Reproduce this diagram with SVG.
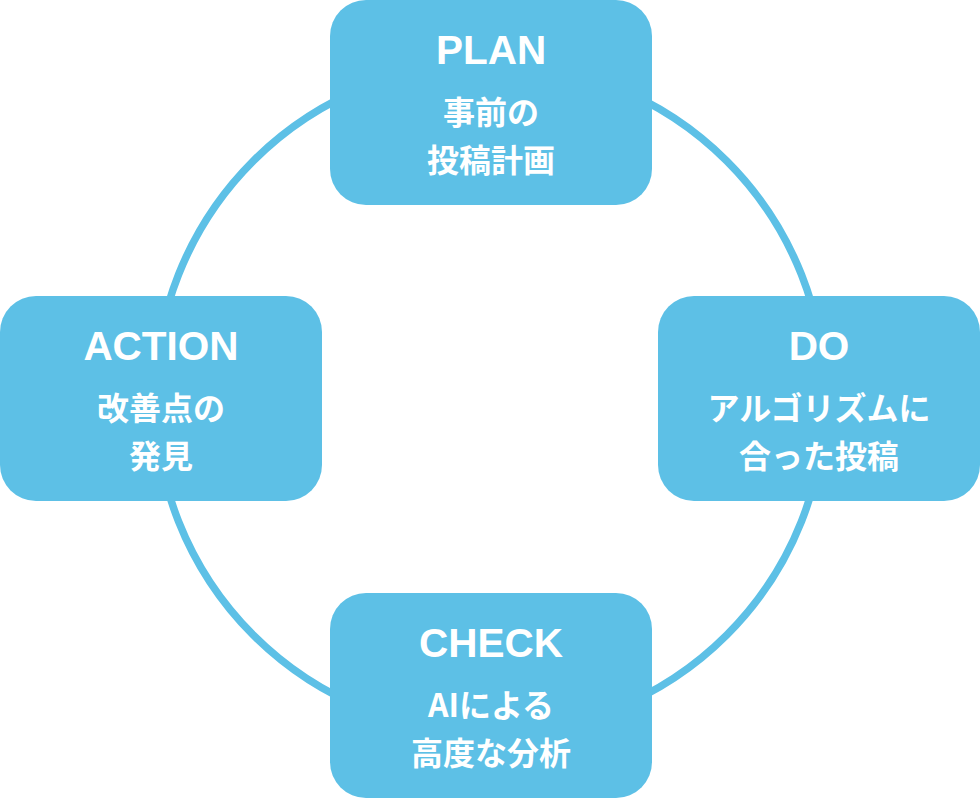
<svg xmlns="http://www.w3.org/2000/svg" width="980" height="798" viewBox="0 0 980 798">
  <style>
    .box { fill: #5DC0E6; }
    .ring { fill: none; stroke: #5DC0E6; stroke-width: 7.5; }
    .title { font-family: "Liberation Sans", Arial, sans-serif; font-weight: bold; font-size: 40.5px; fill: #FFFFFF; text-anchor: middle; }
    .sub { font-family: "Noto Sans CJK JP", "Noto Sans", sans-serif; font-weight: bold; font-size: 32px; fill: #FFFFFF; text-anchor: middle; }
  </style>
  <rect width="980" height="798" fill="#FFFFFF"/>
  <g id="connectors">
    <circle class="ring" cx="490" cy="398" r="335"/>
  </g>
  <g id="plan">
    <rect class="box" x="330" y="0" width="322" height="205" rx="36" ry="36"/>
    <text class="title" x="491" y="64">PLAN</text>
    <text class="sub" x="491" y="124">事前の</text>
    <text class="sub" x="491" y="172">投稿計画</text>
  </g>
  <g id="action">
    <rect class="box" x="0" y="296" width="322" height="205" rx="36" ry="36"/>
    <text class="title" x="161" y="360">ACTION</text>
    <text class="sub" x="161" y="420">改善点の</text>
    <text class="sub" x="161" y="468">発見</text>
  </g>
  <g id="do">
    <rect class="box" x="658" y="296" width="322" height="205" rx="36" ry="36"/>
    <text class="title" x="819" y="360">DO</text>
    <text class="sub" x="819" y="420">アルゴリズムに</text>
    <text class="sub" x="819" y="468">合った投稿</text>
  </g>
  <g id="check">
    <rect class="box" x="330" y="593" width="322" height="205" rx="36" ry="36"/>
    <text class="title" x="491" y="657">CHECK</text>
    <text class="sub" x="491" y="717">AIによる</text>
    <text class="sub" x="491" y="765">高度な分析</text>
  </g>
</svg>
